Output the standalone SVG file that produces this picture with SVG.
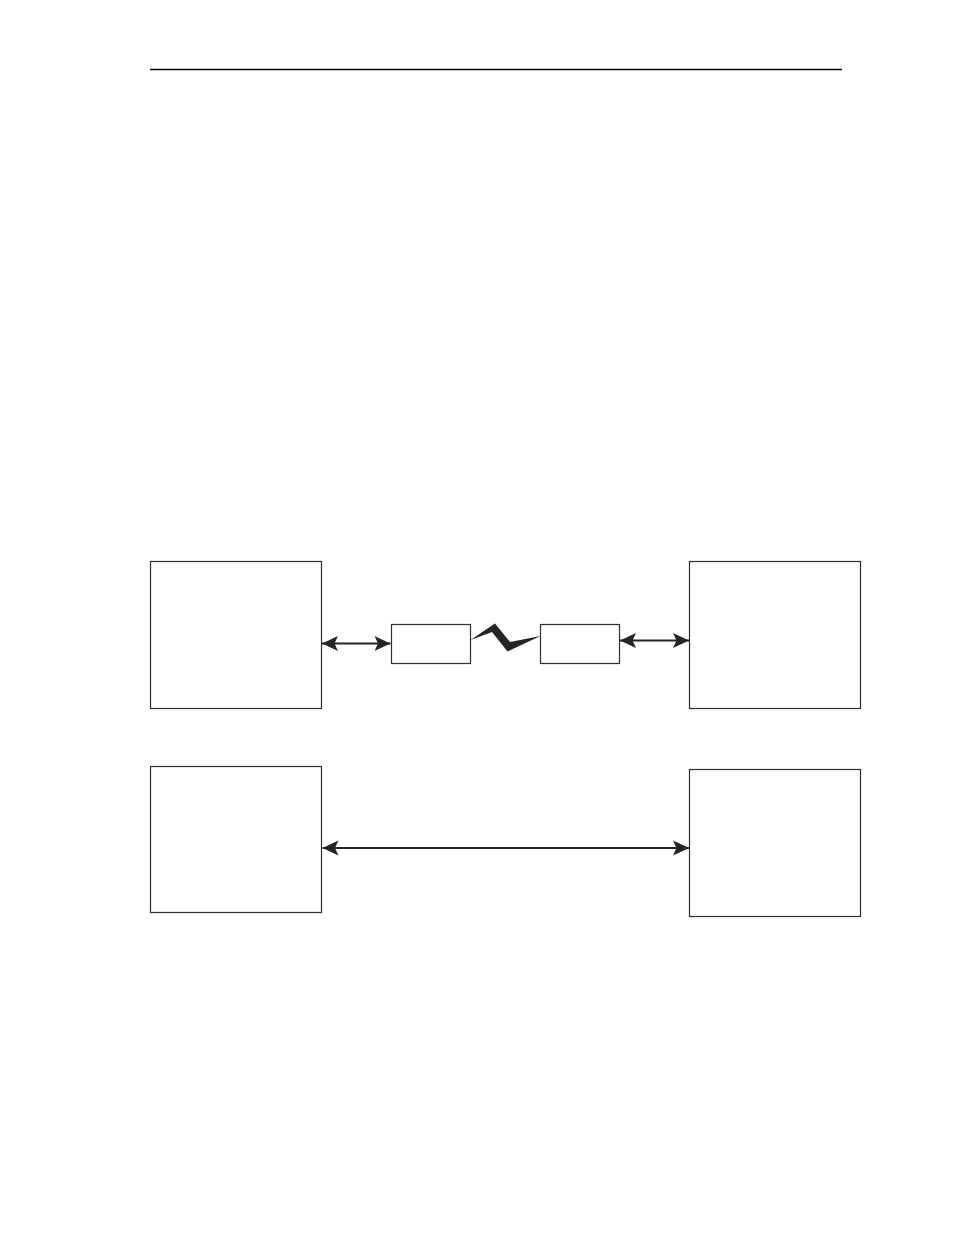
<svg xmlns="http://www.w3.org/2000/svg" width="954" height="1235" viewBox="0 0 954 1235">
<style>
.box{fill:#fff;stroke:#2b3030;stroke-width:1.2}
.conn{stroke:#222626;stroke-width:2.2;fill:none}
</style>
<defs>
<marker id="ah" markerUnits="userSpaceOnUse" markerWidth="18" markerHeight="18" viewBox="0 0 18 18" refX="16" refY="9" orient="auto-start-reverse">
<path d="M0,1.5 L16,9 L0,16.5 L3.5,9 Z" fill="#222626"/>
</marker>
</defs>
<rect width="954" height="1235" fill="#fff"/>
<line x1="150" y1="69.5" x2="842" y2="69.5" stroke="#000" stroke-width="1.3"/>
<g id="node-top-left"><rect class="box" x="150.5" y="561.5" width="171" height="147"/></g>
<g id="node-top-mid-left"><rect class="box" x="391.5" y="624.5" width="79" height="39"/></g>
<g id="node-top-mid-right"><rect class="box" x="540.5" y="624.5" width="79" height="39"/></g>
<g id="node-top-right"><rect class="box" x="689.5" y="561.5" width="171" height="147"/></g>
<g id="node-bottom-left"><rect class="box" x="150.5" y="766.5" width="171" height="146"/></g>
<g id="node-bottom-right"><rect class="box" x="689.5" y="769.5" width="171" height="147"/></g>
<g id="connectors">
<line class="conn" x1="322" y1="643.5" x2="390.5" y2="643.5" marker-start="url(#ah)" marker-end="url(#ah)"/>
<line class="conn" x1="620" y1="640.5" x2="689" y2="640.5" marker-start="url(#ah)" marker-end="url(#ah)"/>
<line class="conn" x1="322.5" y1="848" x2="689" y2="848" marker-start="url(#ah)" marker-end="url(#ah)"/>
<polygon points="470.5,640 495,623.5 510,642 540.5,636 507.5,651.5 492,632" fill="#222626"/>
</g>
</svg>
